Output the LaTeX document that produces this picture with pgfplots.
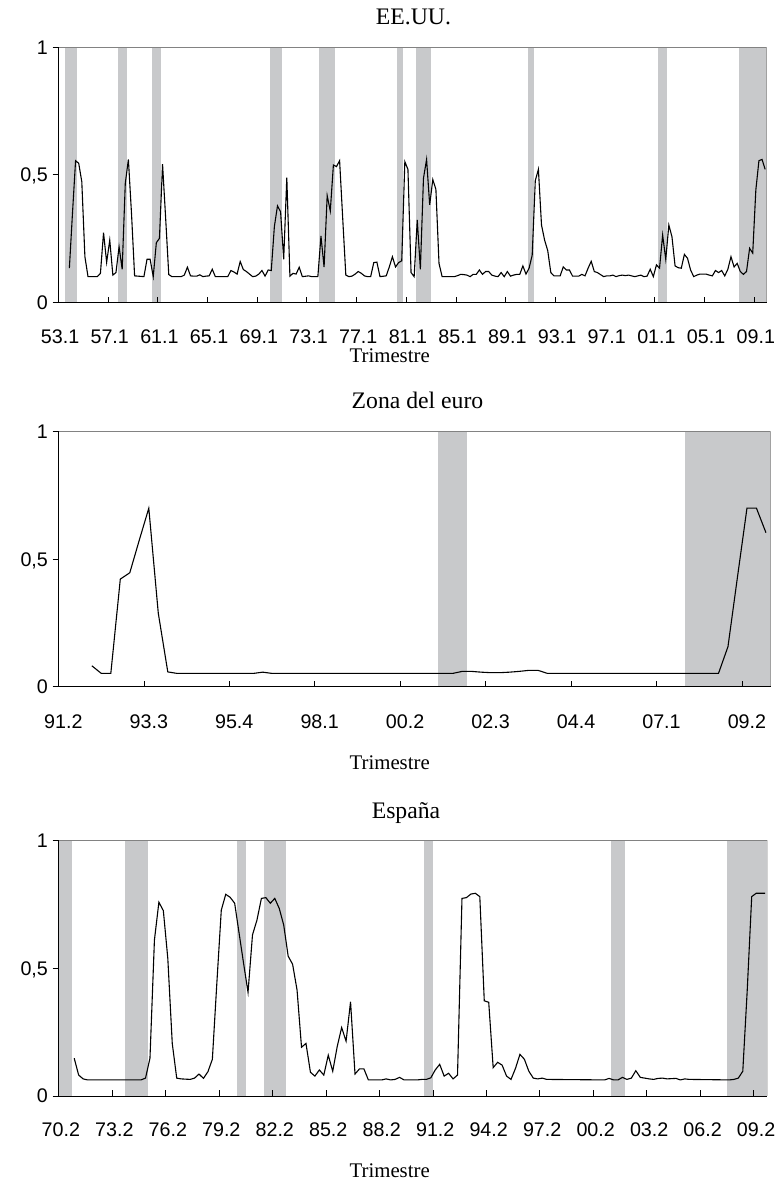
\documentclass[border=0pt]{standalone}
\usepackage{fontspec}
\setmainfont{Liberation Serif}
\newfontfamily\ticksf{Liberation Sans}
\usepackage{pgfplots}
\pgfplotsset{compat=1.18}
\definecolor{bandgray}{RGB}{200,201,203}
\definecolor{framegray}{RGB}{130,130,130}
\newcommand{\band}[2]{\addplot[fill=bandgray,draw=none,forget plot] coordinates {(#1,0)(#1,1)(#2,1)(#2,0)} -- cycle;}
\pgfplotsset{myax/.style={
  scale only axis, anchor=south west,
  ymin=0, ymax=1,
  axis x line*=bottom, axis y line*=left,
  axis line style={black, line width=0.5pt},
  axis on top,
  ytick={0,0.5,1}, yticklabels={0\hspace{4.75pt},{0,5},1\hspace{4.75pt}},
  tick align=inside, major tick length=3pt,
  y tick style={xshift=-3pt, black, line width=0.5pt},
  x tick style={black, line width=0.5pt},
  tick label style={font=\fontsize{9.85}{11}\ticksf},
  yticklabel style={anchor=east, text depth=0pt, xshift=-1.8pt},
  xticklabel style={anchor=north, text depth=0pt},
  minor tick num=0,
  clip=true,
}}
\begin{document}
\begin{tikzpicture}
\useasboundingbox (0,0) rectangle (388.5pt,589.5pt);
% ---------- EE.UU.
\begin{axis}[myax, at={(29.25pt,438.15pt)}, width=354.1pt, height=127.7pt,
  xmin=-0.5, xmax=227.5,
  xtick={-0.5,15.5,...,223.5},
  xticklabels={53.1,57.1,61.1,65.1,69.1,73.1,77.1,81.1,85.1,89.1,93.1,97.1,01.1,05.1,09.1},
  xticklabel style={xshift=0.78pt, yshift=-10.2pt}]
\band{1.5}{5.5}\band{18.5}{21.5}\band{29.5}{32.5}\band{67.5}{71.5}\band{83.5}{88.5}
\band{108.5}{110.5}\band{114.5}{119.5}\band{150.5}{152.5}\band{192.5}{195.5}\band{218.5}{227.5}
\addplot[black, line width=0.55pt] coordinates {
(3,0.135)(4,0.35)(5,0.556)(6,0.546)(7,0.474)(8,0.18)(9,0.102)(12,0.102)(13,0.115)(14,0.274)(15,0.158)
(16,0.245)(17,0.108)(18,0.118)(19,0.219)(20,0.131)(21,0.467)(22,0.561)(23,0.35)(24,0.105)(27,0.102)
(28,0.17)(29,0.17)(30,0.102)(31,0.235)(32,0.252)(33,0.542)(34,0.33)(35,0.11)(36,0.102)(39,0.102)
(40,0.108)(41,0.139)(42,0.105)(43,0.104)(44,0.104)(45,0.109)(46,0.102)(47,0.104)(48,0.105)(49,0.131)
(50,0.102)(54,0.102)(55,0.126)(56,0.12)(57,0.112)(58,0.161)(59,0.13)(60,0.122)(61,0.112)(62,0.102)
(63,0.104)(64,0.112)(65,0.126)(66,0.104)(67,0.128)(68,0.126)(69,0.298)(70,0.379)(71,0.356)(72,0.17)
(73,0.49)(74,0.104)(75,0.115)(76,0.112)(77,0.139)(78,0.102)(80,0.105)(81,0.102)(83,0.102)(84,0.261)
(85,0.139)(86,0.419)(87,0.359)(88,0.539)(89,0.533)(90,0.556)(91,0.33)(92,0.108)(93,0.102)(94,0.104)
(95,0.112)(96,0.122)(97,0.115)(98,0.105)(99,0.102)(100,0.102)(101,0.157)(102,0.159)(103,0.102)
(105,0.105)(106,0.14)(107,0.18)(108,0.14)(109,0.157)(110,0.164)(111,0.552)(112,0.522)(113,0.118)
(114,0.102)(115,0.324)(116,0.131)(117,0.487)(118,0.561)(119,0.383)(120,0.482)(121,0.444)(122,0.154)
(123,0.102)(127,0.102)(128,0.106)(129,0.111)(130,0.11)(131,0.108)(132,0.102)(133,0.111)(134,0.111)
(135,0.128)(136,0.111)(137,0.122)(138,0.122)(139,0.108)(140,0.104)(141,0.102)(142,0.118)(143,0.102)
(144,0.122)(145,0.104)(146,0.108)(147,0.111)(148,0.111)(149,0.144)(150,0.112)(151,0.135)(152,0.186)
(153,0.478)(154,0.522)(155,0.304)(156,0.245)(157,0.204)(158,0.118)(159,0.105)(161,0.105)(162,0.14)
(163,0.128)(164,0.128)(165,0.104)(167,0.104)(168,0.111)(169,0.105)(170,0.135)(171,0.162)(172,0.122)
(173,0.118)(174,0.11)(175,0.102)(176,0.105)(177,0.105)(178,0.108)(179,0.102)(180,0.106)(181,0.108)
(182,0.106)(183,0.108)(184,0.105)(185,0.102)(186,0.105)(187,0.108)(188,0.102)(189,0.104)(190,0.131)
(191,0.102)(192,0.148)(193,0.135)(194,0.265)(195,0.17)(196,0.304)(197,0.258)(198,0.144)(199,0.137)
(200,0.135)(201,0.189)(202,0.174)(203,0.128)(204,0.102)(205,0.108)(206,0.112)(208,0.112)(209,0.108)
(210,0.105)(211,0.126)(212,0.118)(213,0.126)(214,0.105)(215,0.131)(216,0.18)(217,0.14)(218,0.154)
(219,0.122)(220,0.111)(221,0.122)(222,0.213)(223,0.194)(224,0.441)(225,0.556)(226,0.561)(227,0.522)};
\draw[framegray, line width=0.5pt] (rel axis cs:0,1) -- (rel axis cs:1,1) -- (rel axis cs:1,0);
\end{axis}
% ---------- Zona del euro
\begin{axis}[myax, at={(29.3pt,246.15pt)}, width=356.05pt, height=127.5pt,
  xmin=-0.5, xmax=74.5,
  xtick={-0.5,8.5,...,71.5},
  xticklabels={91.2,93.3,95.4,98.1,00.2,02.3,04.4,07.1,09.2},
  xticklabel style={xshift=2.37pt, yshift=-10.4pt}]
\band{39.5}{42.5}\band{65.5}{74.5}
\addplot[black, line width=0.55pt] coordinates {
(3,0.082)(4,0.052)(5,0.052)(6,0.422)(7,0.447)(8,0.575)(9,0.70)(10,0.288)(11,0.058)(12,0.052)
(20,0.052)(21,0.057)(22,0.052)(41,0.052)(42,0.06)(43,0.06)(44,0.057)(45,0.055)(46,0.055)(47,0.057)
(48,0.06)(49,0.064)(50,0.064)(51,0.052)(69,0.052)(70,0.157)(71,0.43)(72,0.70)(73,0.70)(74,0.604)};
\draw[framegray, line width=0.5pt] (rel axis cs:0,1) -- (rel axis cs:1,1) -- (rel axis cs:1,0);
\end{axis}
% ---------- España
\begin{axis}[myax, at={(29.3pt,41.5pt)}, width=354.35pt, height=127.65pt,
  xmin=-0.5, xmax=158.5,
  xtick={-0.5,11.5,...,155.5},
  xticklabels={70.2,73.2,76.2,79.2,82.2,85.2,88.2,91.2,94.2,97.2,00.2,03.2,06.2,09.2},
  xticklabel style={xshift=1.11pt, yshift=-9.7pt}]
\band{-0.5}{2.5}\band{14.5}{19.5}\band{39.5}{41.5}\band{45.5}{50.5}\band{81.5}{83.5}
\band{123.5}{126.5}\band{149.5}{158.5}
\addplot[black, line width=0.55pt] coordinates {
(3,0.148)(4,0.082)(5,0.067)(6,0.063)(18,0.063)(19,0.07)(20,0.148)(21,0.611)(22,0.759)(23,0.726)
(24,0.539)(25,0.206)(26,0.07)(27,0.067)(29,0.065)(30,0.07)(31,0.086)(32,0.069)(33,0.095)(34,0.144)
(35,0.441)(36,0.728)(37,0.79)(38,0.778)(39,0.755)(40,0.637)(41,0.52)(42,0.406)(43,0.631)(44,0.689)
(45,0.774)(46,0.777)(47,0.755)(48,0.774)(49,0.735)(50,0.67)(51,0.548)(52,0.516)(53,0.415)(54,0.191)
(55,0.206)(56,0.093)(57,0.078)(58,0.102)(59,0.082)(60,0.16)(61,0.097)(62,0.193)(63,0.268)(64,0.215)
(65,0.369)(66,0.086)(67,0.106)(68,0.106)(69,0.063)(72,0.063)(73,0.067)(74,0.063)(75,0.065)(76,0.073)
(77,0.063)(80,0.063)(81,0.065)(82,0.065)(83,0.071)(84,0.102)(85,0.124)(86,0.078)(87,0.089)(88,0.067)
(89,0.082)(90,0.774)(91,0.777)(92,0.791)(93,0.794)(94,0.781)(95,0.373)(96,0.367)(97,0.111)(98,0.132)
(99,0.121)(100,0.078)(101,0.065)(102,0.108)(103,0.163)(104,0.144)(105,0.097)(106,0.07)(107,0.067)
(108,0.07)(109,0.065)(122,0.063)(123,0.069)(124,0.063)(125,0.063)(126,0.073)(127,0.065)(128,0.07)
(129,0.099)(130,0.073)(131,0.07)(132,0.067)(133,0.065)(134,0.069)(135,0.07)(136,0.067)(137,0.068)
(138,0.069)(139,0.063)(140,0.067)(141,0.065)(150,0.063)(151,0.065)(152,0.07)(153,0.097)(154,0.415)
(155,0.781)(156,0.794)(157,0.794)(158,0.794)};
\draw[framegray, line width=0.5pt] (rel axis cs:0,1) -- (rel axis cs:1,1) -- (rel axis cs:1,0);
\end{axis}
% ---------- titles and labels
\node[anchor=base, font=\fontsize{11.85}{14}\selectfont, inner sep=0pt] at (206.75pt,577pt) {EE.UU.};
\node[anchor=base, font=\fontsize{10.4}{12}\selectfont, inner sep=0pt] at (194.85pt,408.2pt) {Trimestre};
\node[anchor=base, font=\fontsize{11.85}{14}\selectfont, inner sep=0pt] at (208.75pt,385.35pt) {Zona del euro};
\node[anchor=base, font=\fontsize{10.4}{12}\selectfont, inner sep=0pt] at (194.85pt,204.6pt) {Trimestre};
\node[anchor=base, font=\fontsize{11.85}{14}\selectfont, inner sep=0pt] at (203pt,180.35pt) {España};
\node[anchor=base, font=\fontsize{10.4}{12}\selectfont, inner sep=0pt] at (194.85pt,0.8pt) {Trimestre};
\end{tikzpicture}
\end{document}
